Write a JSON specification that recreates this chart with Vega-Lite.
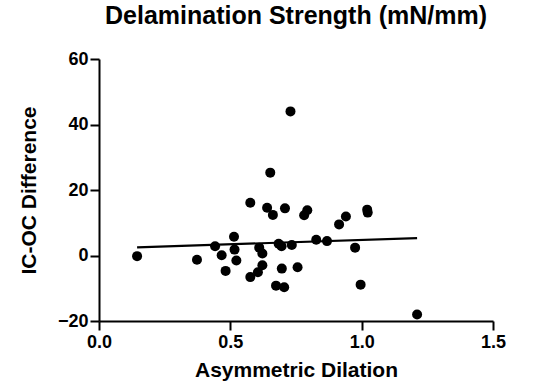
{
  "$schema": "https://vega.github.io/schema/vega-lite/v6.json",
  "autosize": "none",
  "padding": {"left": 99, "top": 59, "right": 45, "bottom": 65},
  "width": 394,
  "height": 262,
  "background": "white",
  "title": {
    "text": "Delamination Strength (mN/mm)",
    "font": "Liberation Sans",
    "fontSize": 25,
    "fontWeight": "bold",
    "color": "black",
    "anchor": "middle",
    "offset": 21
  },
  "config": {
    "view": {"stroke": null},
    "axis": {
      "grid": false,
      "labelFlush": false,
      "domainColor": "black",
      "domainWidth": 2,
      "tickColor": "black",
      "tickWidth": 2,
      "tickSize": 9,
      "labelFont": "Liberation Sans",
      "labelFontSize": 18,
      "labelFontWeight": "bold",
      "labelColor": "black",
      "titleFont": "Liberation Sans",
      "titleFontSize": 21,
      "titleFontWeight": "bold",
      "titleColor": "black"
    }
  },
  "layer": [
    {
      "data": {"values": [
        {"x": 0.145, "y": -0.2},
        {"x": 0.373, "y": -1.3},
        {"x": 0.442, "y": 2.8},
        {"x": 0.467, "y": 0.1},
        {"x": 0.482, "y": -4.7},
        {"x": 0.514, "y": 5.7},
        {"x": 0.516, "y": 1.8},
        {"x": 0.523, "y": -1.5},
        {"x": 0.576, "y": 16.1},
        {"x": 0.576, "y": -6.6},
        {"x": 0.605, "y": -5.1},
        {"x": 0.610, "y": 2.4},
        {"x": 0.622, "y": 0.6},
        {"x": 0.622, "y": -3.0},
        {"x": 0.652, "y": 25.3},
        {"x": 0.640, "y": 14.6},
        {"x": 0.662, "y": 12.4},
        {"x": 0.674, "y": -9.2},
        {"x": 0.705, "y": -9.7},
        {"x": 0.684, "y": 3.6},
        {"x": 0.695, "y": 2.8},
        {"x": 0.696, "y": -4.0},
        {"x": 0.708, "y": 14.4},
        {"x": 0.729, "y": 44.0},
        {"x": 0.734, "y": 3.2},
        {"x": 0.756, "y": -3.6},
        {"x": 0.781, "y": 12.3},
        {"x": 0.793, "y": 13.8},
        {"x": 0.827, "y": 4.8},
        {"x": 0.868, "y": 4.4},
        {"x": 0.914, "y": 9.5},
        {"x": 0.940, "y": 11.9},
        {"x": 0.975, "y": 2.4},
        {"x": 0.996, "y": -8.9},
        {"x": 1.021, "y": 14.0},
        {"x": 1.023, "y": 13.1},
        {"x": 1.211, "y": -18.0}
      ]},
      "mark": {"type": "point", "shape": "circle", "filled": true, "color": "black", "opacity": 1, "size": 100},
      "encoding": {
        "x": {"field": "x", "type": "quantitative",
          "scale": {"domain": [0, 1.5], "nice": false, "zero": false},
          "axis": {"title": "Asymmetric Dilation", "values": [0, 0.5, 1.0, 1.5], "format": ".1f", "labelPadding": 3, "titlePadding": 8}},
        "y": {"field": "y", "type": "quantitative",
          "scale": {"domain": [-20, 60], "nice": false, "zero": false},
          "axis": {"title": "IC-OC Difference", "values": [-20, 0, 20, 40, 60], "labelPadding": 2, "titlePadding": 18}}
      }
    },
    {
      "data": {"values": [
        {"x": 0.145, "y": 2.5},
        {"x": 1.211, "y": 5.3}
      ]},
      "mark": {"type": "line", "color": "black", "strokeWidth": 2.2},
      "encoding": {
        "x": {"field": "x", "type": "quantitative"},
        "y": {"field": "y", "type": "quantitative"}
      }
    }
  ]
}
